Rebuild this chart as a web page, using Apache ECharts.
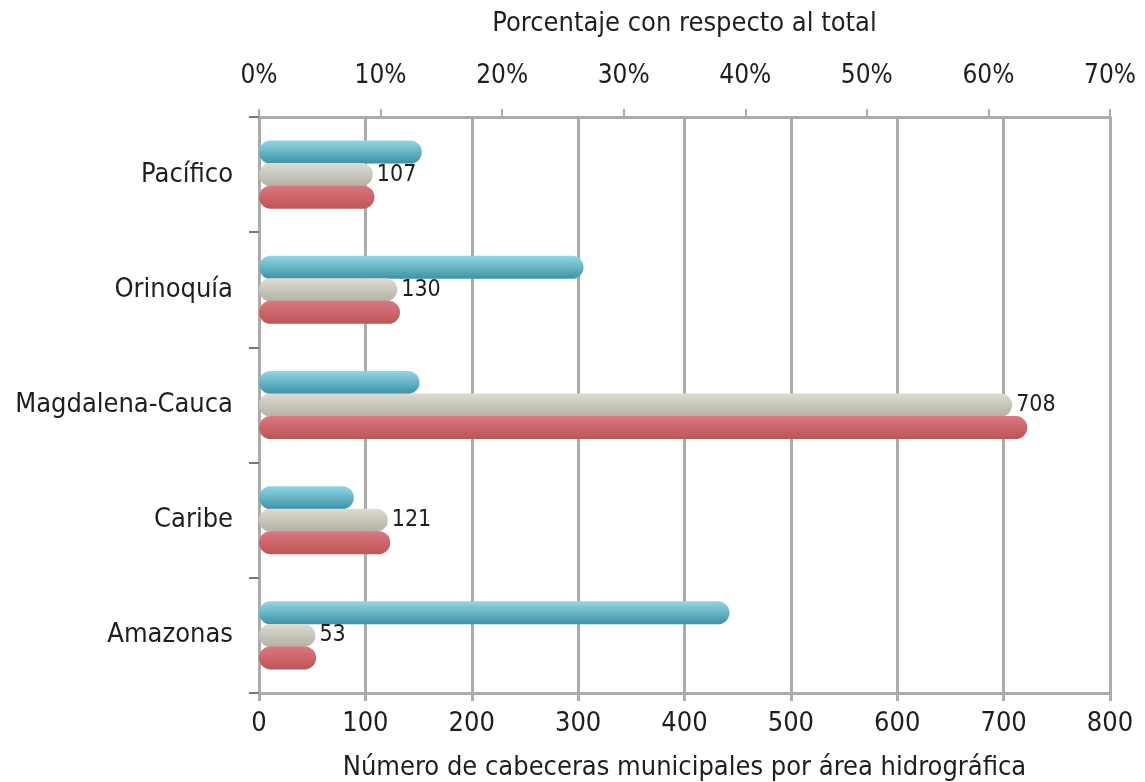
<!DOCTYPE html>
<html>
<head>
<meta charset="utf-8">
<script src="https://cdn.jsdelivr.net/npm/echarts@6/dist/echarts.min.js"></script>
<style>html,body{margin:0;padding:0;background:#fff;}#c{width:1145px;height:782px;}</style>
</head>
<body>
<div id="c"></div>
<script>
const categories = ['Pacífico', 'Orinoquía', 'Magdalena-Cauca', 'Caribe', 'Amazonas'];
const areaPct = [13.4, 26.7, 13.2, 7.8, 38.7];
const municipalCount = [107, 130, 708, 121, 53];
const municipalPct = [9.5, 11.6, 63.2, 10.8, 4.7];
const countTicks = { min: 0, max: 800, interval: 100 };
const pctTicks = { min: 0, max: 70, interval: 10 };
const topAxisName = 'Porcentaje con respecto al total';
const bottomAxisName = 'Número de cabeceras municipales por área hidrográfica';

const FONT = "'Liberation Sans Narrow', 'DejaVu Sans Condensed', sans-serif";
const TXT = '#1e1e1e';
const GRIDC = '#ababab';

function grad(top, bottom) {
  return new echarts.graphic.LinearGradient(0, 0, 0, 1, [
    { offset: 0, color: top },
    { offset: 1, color: bottom }
  ]);
}

const chart = echarts.init(document.getElementById('c'), null, { renderer: 'canvas' });
chart.setOption({
  animation: false,
  backgroundColor: '#ffffff',
  textStyle: { fontFamily: FONT },
  grid: { left: 259, right: 35, top: 117, bottom: 89, containLabel: false, outerBoundsMode: 'none' },
  xAxis: [
    {
      type: 'value', position: 'bottom',
      min: countTicks.min, max: countTicks.max, interval: countTicks.interval,
      name: bottomAxisName, nameLocation: 'middle', nameGap: 61,
      nameTextStyle: { fontFamily: FONT, fontSize: 27, color: TXT },
      axisLine: { show: true, lineStyle: { color: GRIDC, width: 3 } },
      axisTick: { show: true, length: 8, lineStyle: { color: GRIDC, width: 3 } },
      axisLabel: { fontFamily: FONT, fontSize: 27, color: TXT, margin: 17 },
      splitLine: { show: true, lineStyle: { color: GRIDC, width: 3 } }
    },
    {
      type: 'value', position: 'top',
      min: pctTicks.min, max: pctTicks.max, interval: pctTicks.interval,
      name: topAxisName, nameLocation: 'middle', nameGap: 80,
      nameTextStyle: { fontFamily: FONT, fontSize: 27, color: TXT },
      axisLine: { show: true, lineStyle: { color: GRIDC, width: 3 } },
      axisTick: { show: true, length: 8, lineStyle: { color: GRIDC, width: 2 } },
      axisLabel: { fontFamily: FONT, fontSize: 26, color: TXT, margin: 28, formatter: '{value}%' },
      splitLine: { show: false }
    }
  ],
  yAxis: {
    type: 'category', inverse: true, data: categories,
    axisLine: { show: true, lineStyle: { color: GRIDC, width: 3 } },
    axisTick: { show: true, length: 10, lineStyle: { color: '#777', width: 2 } },
    axisLabel: { fontFamily: FONT, fontSize: 27, color: TXT, margin: 26 },
    splitLine: { show: false }
  },
  series: [
    {
      type: 'bar', name: 'Área', xAxisIndex: 1, data: areaPct,
      barWidth: 23, barGap: '-2%', barCategoryGap: '40%',
      itemStyle: { color: grad('#93d6e4', '#3b93a6'), borderRadius: 11.5 }
    },
    {
      type: 'bar', name: 'Cabeceras', xAxisIndex: 0, data: municipalCount,
      barWidth: 23, barGap: '-2%',
      itemStyle: { color: grad('#dedcd2', '#b2b1a4'), borderRadius: 11.5 },
      label: { show: true, position: 'right', distance: 4, fontFamily: FONT, fontSize: 23, color: TXT }
    },
    {
      type: 'bar', name: 'Porcentaje cabeceras', xAxisIndex: 1, data: municipalPct,
      barWidth: 23, barGap: '-2%',
      itemStyle: { color: grad('#da7780', '#bd5555'), borderRadius: 11.5 }
    }
  ]
});
</script>
</body>
</html>
